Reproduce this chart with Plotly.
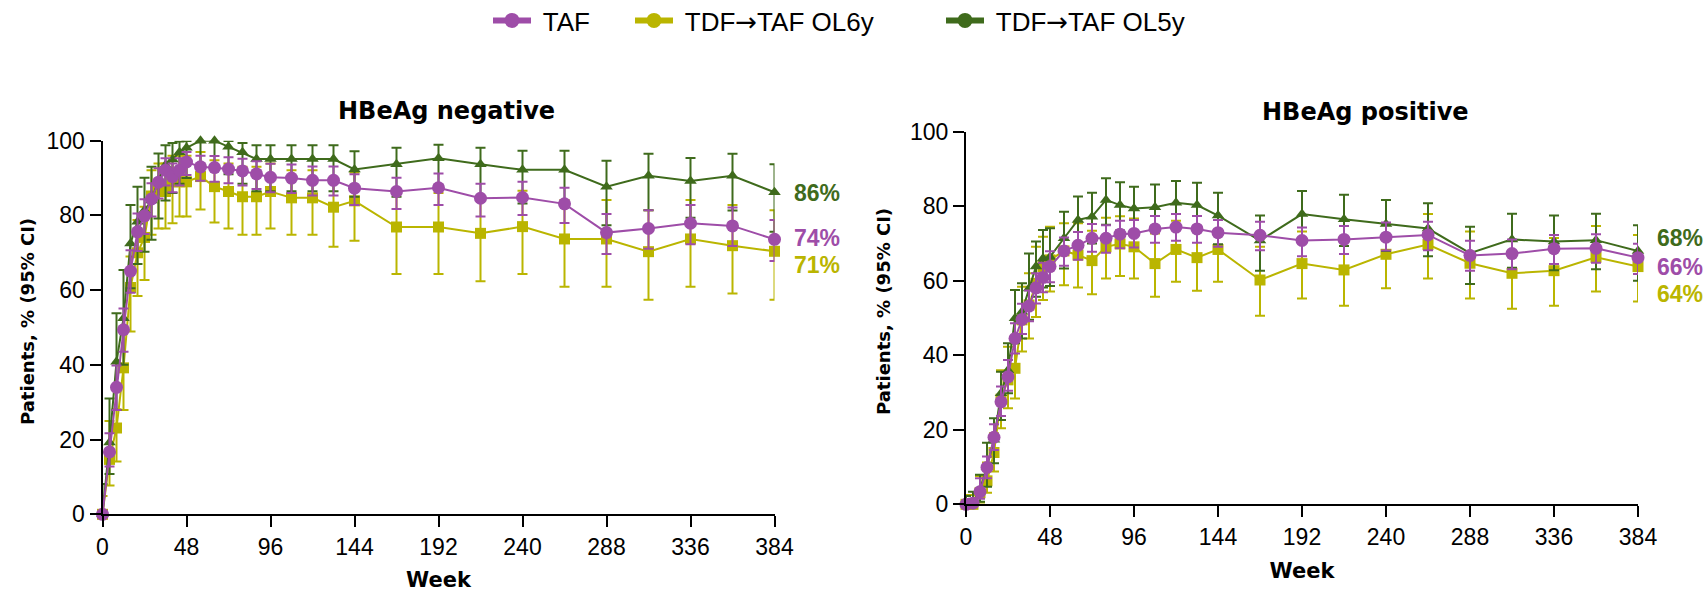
import plotly.graph_objects as go

# ---------------- data ----------------
weeks = [0, 4, 8, 12, 16, 20, 24, 28, 32, 36, 40, 44, 48, 56, 64, 72, 80, 88, 96,
         108, 120, 132, 144, 168, 192, 216, 240, 264, 288, 312, 336, 360, 384]
week_ticks = [0, 48, 96, 144, 192, 240, 288, 336, 384]
y_ticks = [0, 20, 40, 60, 80, 100]

series_names = ["TAF", "TDF→TAF OL6y", "TDF→TAF OL5y"]
end_labels_neg = ["74%", "71%", "86%"]
end_labels_pos = ["66%", "64%", "68%"]
end_label_y_neg = [74, 66.6, 86]
end_label_y_pos = [63.8, 56.4, 71.4]

# HBeAg negative
neg_taf = [0, 16.7, 34.0, 49.4, 65.1, 75.6, 79.9, 84.4, 88.9, 92.1, 90.4, 92.1, 94.3, 93.0, 92.8, 92.4, 91.9, 91.1, 90.2,
           90.0, 89.4, 89.4, 87.3, 86.4, 87.4, 84.6, 84.8, 83.1, 75.4, 76.5, 77.9, 77.2, 73.6]
neg_taf_hi = [0.8, 21.7, 39.8, 55.1, 70.7, 80.5, 84.3, 88.6, 92.6, 95.3, 93.9, 95.3, 97.0, 96.0, 95.9, 95.6, 95.2, 94.5, 93.8,
              93.6, 93.1, 93.1, 91.0, 90.1, 91.2, 88.5, 89.0, 87.4, 80.4, 81.4, 82.8, 82.1, 78.8]
neg_taf_lo = [0, 12.8, 27.9, 43.5, 59.3, 70.5, 75.0, 79.7, 84.5, 88.0, 86.2, 88.0, 90.8, 89.3, 89.0, 88.6, 88.0, 87.1, 86.2,
              86.0, 85.3, 85.3, 82.8, 81.7, 82.8, 79.7, 80.1, 78.0, 69.7, 71.1, 72.3, 71.8, 67.8]

neg_ol6 = [0, 14.7, 23.1, 39.2, 60.7, 70.0, 74.1, 85.2, 86.8, 86.4, 89.0, 89.0, 89.0, 90.4, 87.7, 86.4, 85.0, 85.0, 86.4,
           84.7, 84.7, 82.2, 83.9, 76.9, 76.9, 75.2, 77.0, 73.7, 73.7, 70.3, 73.7, 71.9, 70.4]
neg_ol6_hi = [4.9, 25.0, 28.1, 49.3, 69.0, 78.8, 82.3, 92.1, 93.9, 93.9, 96.0, 96.0, 96.0, 97.0, 94.8, 93.9, 93.0, 93.0, 93.9,
              92.1, 92.1, 90.0, 91.5, 86.0, 86.0, 85.0, 86.6, 84.1, 84.1, 81.4, 84.1, 82.8, 81.4]
neg_ol6_lo = [0, 7.7, 14.1, 27.9, 48.9, 58.4, 62.7, 74.8, 76.5, 76.5, 77.9, 79.7, 79.7, 81.6, 78.1, 76.5, 74.8, 74.8, 76.5,
              74.8, 74.8, 71.6, 73.2, 64.3, 64.3, 62.4, 64.3, 60.9, 60.9, 57.4, 60.9, 59.1, 57.4]

neg_ol5 = [0, 19.2, 40.8, 52.5, 72.5, 78.3, 81.4, 84.0, 89.5, 93.5, 95.0, 96.9, 98.1, 100, 100, 98.4, 96.9, 95.1, 95.1,
           95.1, 95.1, 95.1, 92.3, 93.7, 95.3, 93.7, 92.2, 92.2, 87.7, 90.6, 89.2, 90.6, 86.2]
neg_ol5_hi = [8.1, 31.0, 53.8, 65.4, 82.8, 87.7, 90.1, 93.0, 96.6, 98.8, 99.4, 99.8, 99.9, 100, 100, 99.9, 99.4, 98.8, 98.8,
              98.8, 98.8, 98.8, 97.2, 98.1, 98.9, 98.1, 97.3, 97.3, 94.6, 96.5, 95.4, 96.5, 93.7]
neg_ol5_lo = [0, 10.8, 27.9, 40.0, 60.5, 67.0, 70.3, 73.5, 79.2, 84.0, 86.0, 88.5, 90.0, 93.0, 93.0, 91.0, 88.5, 86.5, 86.5,
              86.5, 86.5, 86.5, 85.0, 85.0, 88.0, 85.0, 83.2, 83.2, 77.4, 81.4, 79.4, 81.3, 75.6]

# HBeAg positive
pos_taf = [0, 0.3, 3.4, 9.9, 18.0, 27.5, 34.2, 44.5, 49.6, 53.2, 58.1, 60.9, 63.8, 68.0, 69.5, 71.4, 71.4, 72.5, 72.7,
           73.9, 74.4, 73.9, 72.9, 72.2, 70.8, 71.1, 71.7, 72.3, 66.8, 67.3, 68.6, 68.7, 66.2]
pos_taf_hi = [0.8, 1.5, 7.0, 12.8, 21.5, 31.6, 38.7, 48.6, 53.8, 57.4, 62.0, 64.8, 67.9, 71.6, 73.1, 75.2, 74.9, 76.1, 76.3,
              77.4, 77.9, 77.4, 76.3, 75.8, 74.3, 74.7, 75.6, 75.8, 70.7, 71.1, 72.3, 72.5, 69.9]
pos_taf_lo = [0, 0, 1.5, 7.0, 14.6, 23.7, 30.5, 40.5, 45.7, 49.1, 53.9, 56.9, 59.6, 64.0, 65.6, 67.8, 67.5, 68.7, 68.9,
              70.2, 70.7, 70.2, 69.1, 68.2, 66.6, 67.2, 68.1, 68.2, 62.7, 63.1, 64.5, 64.8, 61.8]

pos_ol6 = [0, 0, 3.1, 6.3, 13.9, 28.2, 33.4, 36.5, 49.5, 53.5, 59.3, 63.8, 65.6, 68.0, 66.9, 65.4, 69.1, 69.9, 69.1,
           64.6, 68.4, 66.2, 68.4, 60.2, 64.6, 62.9, 67.1, 69.7, 64.7, 62.0, 62.7, 66.3, 63.8]
pos_ol6_hi = [2.5, 2.5, 7.6, 11.2, 19.1, 36.0, 42.3, 45.0, 58.4, 62.0, 69.1, 71.8, 74.5, 75.4, 75.4, 73.4, 76.9, 77.3, 76.7,
              72.7, 76.1, 74.2, 76.3, 69.1, 73.2, 71.5, 75.3, 77.9, 73.2, 70.9, 71.5, 74.7, 72.3]
pos_ol6_lo = [0, 0, 0.5, 3.1, 8.8, 20.4, 25.8, 28.4, 41.0, 44.5, 50.3, 54.8, 57.1, 58.8, 58.2, 56.4, 60.6, 61.3, 60.6,
              55.7, 59.7, 57.3, 59.7, 50.6, 55.2, 53.3, 58.0, 60.6, 55.2, 52.5, 53.3, 57.1, 54.4]

pos_ol5 = [0, 0.3, 4.0, 10.1, 17.3, 29.8, 36.0, 49.9, 51.7, 57.9, 63.8, 66.0, 66.4, 71.4, 76.3, 77.2, 81.7, 80.3, 79.4,
           79.7, 80.9, 80.3, 77.5, 70.8, 77.9, 76.5, 75.2, 74.0, 67.4, 71.1, 70.5, 70.9, 68.0]
pos_ol5_hi = [2.2, 3.4, 7.9, 16.5, 23.1, 35.6, 43.2, 57.5, 59.3, 67.3, 70.5, 73.6, 74.1, 78.5, 82.6, 83.6, 87.5, 86.4, 85.2,
              85.8, 86.8, 86.3, 83.6, 77.5, 84.1, 83.1, 81.7, 80.8, 74.5, 78.0, 77.5, 78.0, 74.9]
pos_ol5_lo = [0, 0, 0.7, 4.7, 11.0, 22.6, 29.8, 43.2, 44.5, 49.5, 55.7, 58.2, 58.6, 63.3, 69.1, 70.0, 75.0, 73.5, 72.6,
              73.6, 74.9, 74.3, 69.8, 62.7, 71.0, 69.3, 68.0, 66.6, 59.1, 63.5, 62.8, 63.1, 60.0]

# ---------------- style ----------------
W, H = 1706, 592
FONT = "Liberation Sans, Arial, sans-serif"
BOLD_WIDE = "DejaVu Sans, Liberation Sans, sans-serif"
colors = {"TAF": "#9E4DA8", "TDF→TAF OL6y": "#BAB500", "TDF→TAF OL5y": "#3F6B1C"}
symbols = {"TAF": "circle", "TDF→TAF OL6y": "square", "TDF→TAF OL5y": "triangle-up"}
msize = {"TAF": 13, "TDF→TAF OL6y": 11, "TDF→TAF OL5y": 11}

panels = [
    ("x", "y", {"TAF": (neg_taf, neg_taf_hi, neg_taf_lo),
                "TDF→TAF OL6y": (neg_ol6, neg_ol6_hi, neg_ol6_lo),
                "TDF→TAF OL5y": (neg_ol5, neg_ol5_hi, neg_ol5_lo)},
     end_labels_neg, end_label_y_neg),
    ("x2", "y2", {"TAF": (pos_taf, pos_taf_hi, pos_taf_lo),
                  "TDF→TAF OL6y": (pos_ol6, pos_ol6_hi, pos_ol6_lo),
                  "TDF→TAF OL5y": (pos_ol5, pos_ol5_hi, pos_ol5_lo)},
     end_labels_pos, end_label_y_pos),
]

fig = go.Figure()
draw_order = ["TDF→TAF OL6y", "TDF→TAF OL5y", "TAF"]
annotations = []
for xa, ya, data, labels, label_y in panels:
    for name in draw_order:
        v, hi, lo = data[name]
        c = colors[name]
        fig.add_trace(go.Scatter(
            x=weeks, y=v, xaxis=xa, yaxis=ya, name=name, showlegend=False,
            mode="lines+markers", cliponaxis=False,
            line=dict(color=c, width=2),
            marker=dict(symbol=symbols[name], size=msize[name], color=c),
            error_y=dict(type="data", symmetric=False,
                         array=[h - a for h, a in zip(hi, v)],
                         arrayminus=[a - l for a, l in zip(v, lo)],
                         color=c, thickness=2, width=5),
        ))
    for name, txt, yy in zip(series_names, labels, label_y):
        annotations.append(dict(
            x=384, y=yy, xref=xa, yref=ya, text="<b>%s</b>" % txt, showarrow=False,
            xanchor="left", yanchor="middle", xshift=17,
            font=dict(family=FONT, size=23, color=colors[name])))


def legend_text(name):
    # long arrow glyph from DejaVu Sans, rest in Arial-like font
    return " " + name.replace("→", "<span style='font-family:DejaVu Sans'>→</span>")


# legend entries (circle on thick line), one legend each for exact placement
legend_x = [488, 630, 941]
for i, name in enumerate(series_names):
    lg = "legend" if i == 0 else "legend%d" % (i + 1)
    fig.add_trace(go.Scatter(
        x=[None], y=[None], name=legend_text(name), mode="lines+markers", legend=lg,
        line=dict(color=colors[name], width=6),
        marker=dict(symbol="circle", size=15, color=colors[name]),
        showlegend=True))

legend_common = dict(orientation="h", yanchor="middle", y=1 - 20.5 / H, xanchor="left",
                     font=dict(family=FONT, size=26, color="black"),
                     bgcolor="rgba(0,0,0,0)", itemwidth=38)

titles = [("<b>HBeAg negative</b>", 446, 111), ("<b>HBeAg positive</b>", 1365, 112)]
for t, px, py in titles:
    annotations.append(dict(x=px / W, y=1 - py / H, xref="paper", yref="paper", text=t,
                            showarrow=False, xanchor="center", yanchor="middle",
                            font=dict(family=BOLD_WIDE, size=24, color="black")))

# y-axis titles
for px, py in [(27, 322), (884, 312)]:
    annotations.append(dict(x=px / W, y=1 - py / H, xref="paper", yref="paper",
                            text="<b>Patients, % (95% CI)</b>", textangle=-90,
                            showarrow=False, xanchor="center", yanchor="middle",
                            font=dict(family=BOLD_WIDE, size=18, color="black")))

axis_common = dict(showline=True, linecolor="black", linewidth=2, ticks="outside",
                   ticklen=11, tickwidth=2, tickcolor="black", showgrid=False, zeroline=False,
                   automargin=False,
                   tickfont=dict(family=FONT, size=23, color="black"))


def xaxis(domain, anchor):
    return dict(axis_common, domain=domain, anchor=anchor, range=[0, 384],
                tickmode="array", tickvals=week_ticks, ticktext=[str(t) for t in week_ticks],
                title=dict(text="<b>Week</b>", standoff=14,
                           font=dict(family=BOLD_WIDE, size=21, color="black")))


def yaxis(domain, anchor):
    return dict(axis_common, domain=domain, anchor=anchor, range=[0, 100],
                tickmode="array", tickvals=y_ticks, ticktext=[str(t) for t in y_ticks])


fig.update_layout(
    width=W, height=H, margin=dict(l=0, r=0, t=0, b=0, autoexpand=False),
    paper_bgcolor="white", plot_bgcolor="white",
    font=dict(family=FONT, size=22, color="black"),
    xaxis=xaxis([102.5 / W, 774.5 / W], "y"),
    yaxis=yaxis([1 - 514.3 / H, 1 - 140.7 / H], "x"),
    xaxis2=xaxis([966 / W, 1638 / W], "y2"),
    yaxis2=yaxis([1 - 504.3 / H, 1 - 131.7 / H], "x2"),
    legend=dict(legend_common, x=legend_x[0] / W),
    legend2=dict(legend_common, x=legend_x[1] / W),
    legend3=dict(legend_common, x=legend_x[2] / W),
    annotations=annotations,
)

fig.write_html("out.html")
